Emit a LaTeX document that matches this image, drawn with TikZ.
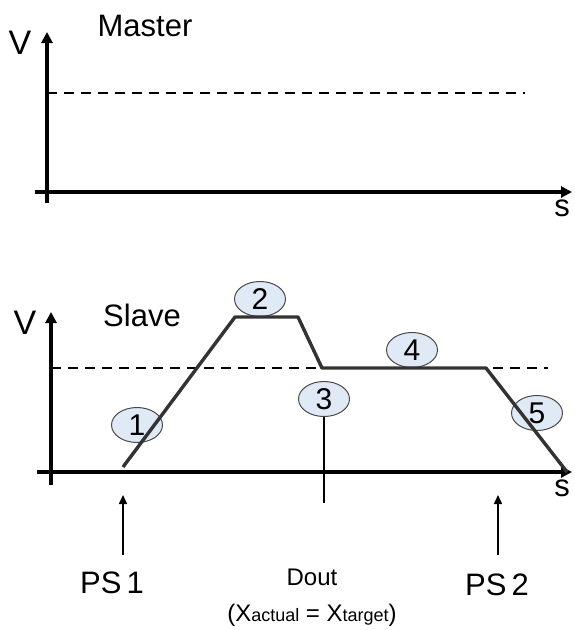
\documentclass[tikz,border=0pt]{standalone}
\usepackage{fontspec}
\setmainfont{Liberation Sans}
\usetikzlibrary{shapes.geometric,arrows.meta}
\definecolor{bubble}{HTML}{DFEAF6}
\definecolor{rim}{HTML}{4A4A4A}
\definecolor{trace}{HTML}{333333}
\tikzset{
  axis/.style={line width=3.6pt, -{Triangle[length=11pt,width=11pt]}},
  ref/.style={dashed, line width=1.6pt, dash pattern=on 10pt off 7pt},
  bubblenode/.style={ellipse, draw=rim, line width=1pt, fill=bubble,
    minimum width=51pt, minimum height=35pt, inner sep=0pt,
    font=\fontsize{30}{30}\selectfont},
  lbl/.style={font=\fontsize{31}{34}\selectfont},
  marker/.style={line width=1.6pt, -{Triangle[length=9pt,width=8pt]}}
}
\begin{document}
\begin{tikzpicture}[x=1pt, y=-1pt]
    \useasboundingbox (0,0) rectangle (574,630);
    % Master
    \draw[axis] (47,203) -- (47,32) coordinate (mtop);
    \draw[axis] (35,192) -- (572,192) coordinate (mright);
    \node[lbl, font=\fontsize{34}{36}\selectfont] (mv) at (20,43) {V};
    \node[lbl] (mtitle) at (145,26) {Master};
    \node[lbl, anchor=north] (ms) at (562,196) {s};
    \coordinate (mrefa) at (47,93);
    \coordinate (mrefb) at (525,93);
    \draw[ref] (mrefa) -- (mrefb);
    % Slave
    \draw[axis] (51,485) -- (51,312) coordinate (stop);
    \draw[axis] (37,472) -- (572,472) coordinate (sright);
    \node[lbl, font=\fontsize{34}{36}\selectfont] (sv) at (25,323) {V};
    \node[lbl] (stitle) at (142,315) {Slave};
    \node[lbl, anchor=north] (ss) at (562,476) {s};
    \coordinate (srefa) at (51,368);
    \coordinate (srefb) at (548,368);
    \draw[ref] (srefa) -- (srefb);
    % Profil
    \node[bubblenode] (n1) at (137,425) {1};
    \node[bubblenode] (n2) at (260,299) {2};
    \node[bubblenode] (n3) at (324,399) {3};
    \node[bubblenode] (n4) at (412,350) {4};
    \node[bubblenode] (n5) at (537,413) {5};
    \coordinate (p0) at (123,467);
    \coordinate (p1) at (235,317);
    \coordinate (p2) at (298,317);
    \coordinate (p3) at (322,368);
    \coordinate (p4) at (486,368);
    \coordinate (p5) at (567,472);
    \draw[trace, line width=3.4pt, line join=round] (p0) -- (p1) -- (p2) -- (p3) -- (p4) -- (p5);
    \coordinate (doutend) at (324,503);
    \draw[line width=1.3pt] (n3.south) -- (doutend);
    % Positionen
    \node[lbl] (ps1) at (112,583) {PS\,1};
    \node[lbl] (ps2) at (497,585) {PS\,2};
    \coordinate (ps1base) at (123,555);
    \coordinate (ps1tip) at (123,495);
    \coordinate (ps2base) at (498,555);
    \coordinate (ps2tip) at (498,495);
    \draw[marker] (ps1base) -- (ps1tip);
    \draw[marker] (ps2base) -- (ps2tip);
    \node[font=\fontsize{24}{26}\selectfont] (dout) at (312,577) {Dout};
    \node[font=\fontsize{24}{26}\selectfont] (cond) at (312,615)
      {(X{\fontsize{18}{20}\selectfont actual} = X{\fontsize{18}{20}\selectfont target})};
\end{tikzpicture}
\end{document}
